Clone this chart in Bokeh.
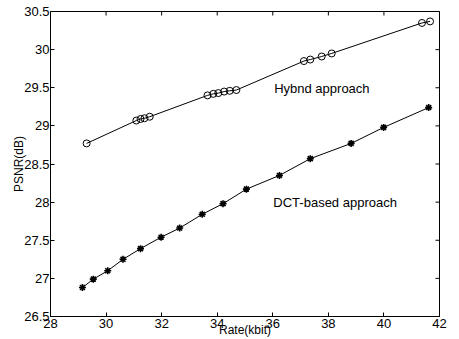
from bokeh.plotting import figure
from bokeh.models import Range1d, FixedTicker, Label
from bokeh.embed import file_html
from bokeh.resources import INLINE

hyb_x = [29.3, 31.09, 31.24, 31.38, 31.57, 33.65, 33.86, 34.04, 34.25, 34.45, 34.69,
         37.12, 37.35, 37.76, 38.12, 41.37, 41.66]
hyb_y = [28.77, 29.07, 29.09, 29.10, 29.12, 29.40, 29.42, 29.43, 29.45, 29.46, 29.47,
         29.85, 29.87, 29.91, 29.95, 30.35, 30.37]

dct_x = [29.15, 29.54, 30.06, 30.61, 31.24, 31.98, 32.65, 33.46, 34.21, 35.05,
         36.24, 37.35, 38.82, 39.99, 41.61]
dct_y = [26.88, 26.99, 27.10, 27.25, 27.39, 27.54, 27.66, 27.84, 27.98, 28.17,
         28.35, 28.57, 28.77, 28.98, 29.24]

x_ticks = [28, 30, 32, 34, 36, 38, 40, 42]
y_ticks = [26.5, 27, 27.5, 28, 28.5, 29, 29.5, 30, 30.5]
x_lo, x_hi = 28, 42
y_lo, y_hi = 26.5, 30.5

FONT = "Liberation Sans"

p = figure(width=459, height=339, output_backend="svg", toolbar_location=None,
           x_range=Range1d(x_lo, x_hi), y_range=Range1d(y_lo, y_hi),
           min_border_left=50, min_border_right=20, min_border_top=11, min_border_bottom=23)
p.xgrid.visible = False
p.ygrid.visible = False
p.outline_line_color = "black"
p.outline_line_width = 1
p.background_fill_color = "white"

for ax in (p.xaxis[0], p.yaxis[0]):
    ax.major_tick_in = 4
    ax.major_tick_out = 0
    ax.minor_tick_in = 0
    ax.minor_tick_out = 0
    ax.axis_line_color = "black"
    ax.major_tick_line_color = "black"
    ax.major_label_text_font = FONT
    ax.major_label_text_font_size = "13px"
    ax.major_label_text_color = "black"
    ax.axis_label_text_font = FONT
    ax.axis_label_text_font_size = "12px"
    ax.axis_label_text_font_style = "normal"
    ax.axis_label_text_color = "black"

p.xaxis[0].ticker = FixedTicker(ticks=x_ticks)
p.yaxis[0].ticker = FixedTicker(ticks=y_ticks)
p.xaxis[0].axis_label = "Rate(kbit)"
p.yaxis[0].axis_label = "PSNR(dB)"
p.xaxis[0].major_label_standoff = 2
p.xaxis[0].axis_label_standoff = -8
p.yaxis[0].major_label_standoff = 1
p.yaxis[0].axis_label_standoff = -5

# inward ticks on top and right edges (half of each dash is clipped by the frame)
p.scatter(x_ticks, [y_hi] * len(x_ticks), marker="dash", angle=1.5708, size=8,
          line_color="black", line_width=1)
p.scatter([x_hi] * len(y_ticks), y_ticks, marker="dash", size=8,
          line_color="black", line_width=1)

p.line(hyb_x, hyb_y, line_color="black", line_width=1)
p.scatter(hyb_x, hyb_y, marker="circle", size=7, fill_color="white", fill_alpha=0,
          line_color="black", line_width=1)

p.line(dct_x, dct_y, line_color="black", line_width=1)
p.scatter(dct_x, dct_y, marker="asterisk", size=7, line_color="black", line_width=1.6)

p.add_layout(Label(x=36.05, y=29.49, text="Hybnd approach", text_font=FONT,
                   text_font_size="13px", text_color="black", text_baseline="middle"))
p.add_layout(Label(x=36.02, y=28.0, text="DCT-based approach", text_font=FONT,
                   text_font_size="13px", text_color="black", text_baseline="middle"))

open("out.html", "w").write(file_html(p, INLINE))
